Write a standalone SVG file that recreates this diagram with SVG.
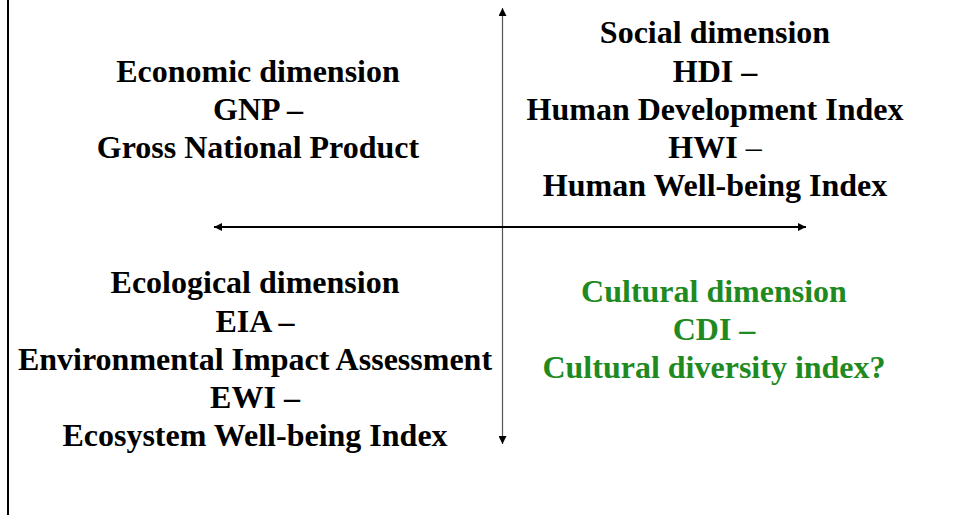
<svg xmlns="http://www.w3.org/2000/svg" width="955" height="519" viewBox="0 0 955 519">
<style>
.t{font-family:"Liberation Serif","Times New Roman",serif;font-weight:bold;font-size:32px;text-anchor:middle;fill:#000}
.g{fill:#1f8a1f}
.n{font-weight:normal}
</style>
<defs>
<marker id="ah" viewBox="0 0 10 10" refX="10" refY="5" markerWidth="8" markerHeight="8" markerUnits="userSpaceOnUse" orient="auto-start-reverse">
<path d="M0,0 L10,5 L0,10 z" fill="#000"/>
</marker>
</defs>
<rect width="955" height="519" fill="#fff"/>
<line x1="8" y1="0" x2="8" y2="515" stroke="#000" stroke-width="2"/>
<g id="connectors">
<line x1="502.5" y1="8" x2="502.5" y2="444" stroke="#555" stroke-width="1.2" marker-start="url(#ah)" marker-end="url(#ah)"/>
<line x1="214" y1="227" x2="806" y2="227" stroke="#000" stroke-width="2" marker-start="url(#ah)" marker-end="url(#ah)"/>
</g>
<g id="economic">
<text class="t" x="258" y="82">Economic dimension</text>
<text class="t" x="258" y="120">GNP –</text>
<text class="t" x="258" y="158">Gross National Product</text>
</g>
<g id="social">
<text class="t" x="715" y="43">Social dimension</text>
<text class="t" x="715" y="82">HDI –</text>
<text class="t" x="715" y="120">Human Development Index</text>
<text class="t" x="715" y="158">HWI <tspan class="n">–</tspan></text>
<text class="t" x="715" y="196">Human Well-being Index</text>
</g>
<g id="ecological">
<text class="t" x="255" y="293">Ecological dimension</text>
<text class="t" x="255" y="332">EIA –</text>
<text class="t" x="255" y="370">Environmental Impact Assessment</text>
<text class="t" x="255" y="408">EWI –</text>
<text class="t" x="255" y="446">Ecosystem Well-being Index</text>
</g>
<g id="cultural">
<text class="t g" x="714" y="302">Cultural dimension</text>
<text class="t g" x="714" y="340">CDI –</text>
<text class="t g" x="714" y="378">Cultural diversity index?</text>
</g>
</svg>
